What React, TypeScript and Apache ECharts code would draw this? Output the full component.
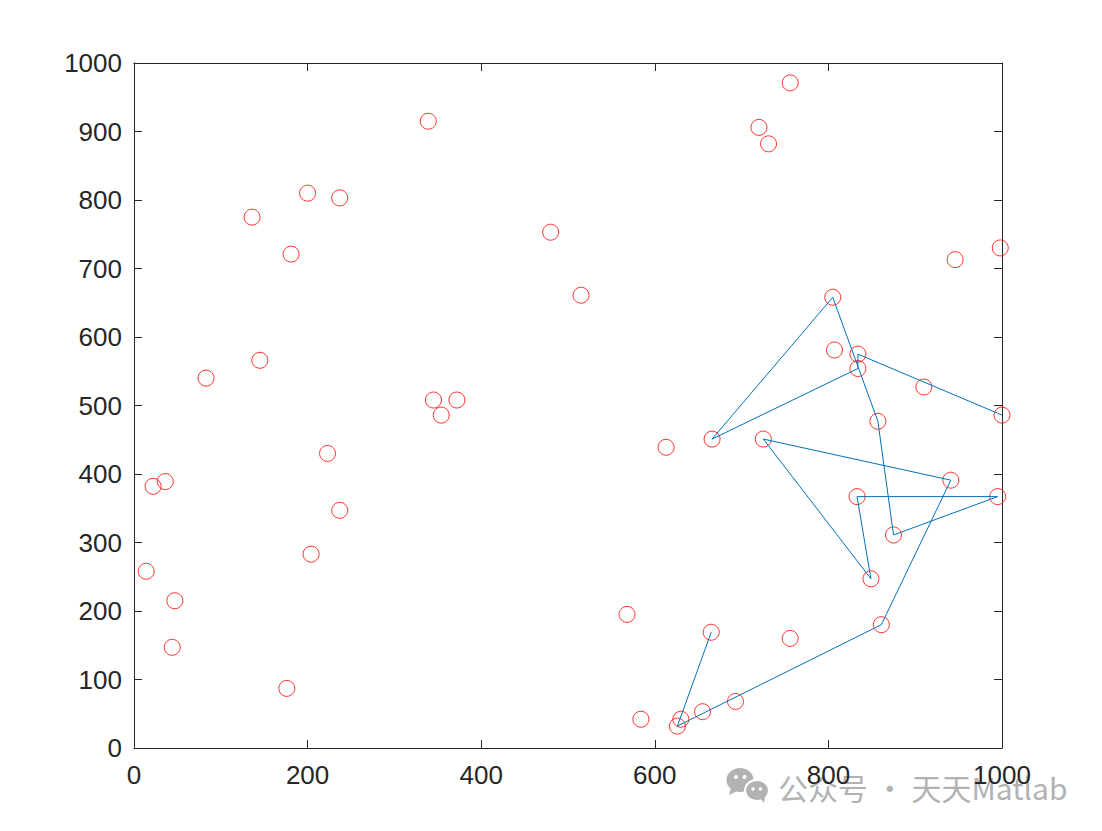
import React, { useEffect, useRef } from "react";
import * as echarts from "echarts";

const pointX = [14, 22, 36, 47, 44, 83, 136, 145, 181, 176, 200, 204, 223, 237, 237, 339, 345, 354, 372, 480, 515, 568, 584, 613, 626, 630, 655, 665, 693, 666, 720, 731, 756, 756, 725, 805, 807, 834, 834, 910, 1000, 857, 941, 833, 995, 875, 849, 861, 946, 998];
const pointY = [258, 382, 389, 215, 147, 540, 775, 566, 721, 87, 810, 283, 430, 803, 347, 915, 508, 486, 508, 753, 661, 195, 42, 439, 32, 42, 53, 169, 68, 451, 906, 882, 971, 160, 451, 658, 581, 575, 554, 527, 486, 477, 391, 367, 367, 311, 247, 180, 713, 730];
// visiting order of the route (0-based indices into the point arrays)
const routeIdx = [27, 24, 47, 42, 34, 46, 43, 44, 45, 41, 35, 29, 38, 37, 40];

const xTicks = [0, 200, 400, 600, 800, 1000];
const yTicks = [0, 100, 200, 300, 400, 500, 600, 700, 800, 900, 1000];

export default function App() {
  const ref = useRef<HTMLDivElement>(null);
  useEffect(() => {
    if (!ref.current) return;
    const chart = echarts.init(ref.current, undefined, { renderer: "svg" });
    const axisColor = "#262626";
    const labelFont = { fontSize: 26, fontFamily: '"Liberation Sans", Arial, sans-serif', color: axisColor };
    const baseAxis = (show: boolean, min: number, max: number, interval: number, margin: number) => ({
      type: "value",
      min,
      max,
      interval,
      splitLine: { show: false },
      axisLine: { show: true, onZero: false, lineStyle: { color: axisColor, width: 1 } },
      axisTick: { show: true, inside: true, length: 8, lineStyle: { color: axisColor, width: 1 } },
      axisLabel: { show, margin, formatter: (v: number) => String(v), ...labelFont },
    });
    const gray = "#b2b2b2";
    chart.setOption({
      animation: false,
      backgroundColor: "#ffffff",
      grid: { left: 134, right: 100, top: 63, bottom: 83, containLabel: false },
      xAxis: [
        { ...baseAxis(true, xTicks[0], xTicks[xTicks.length - 1], 200, 14), position: "bottom" },
        { ...baseAxis(false, xTicks[0], xTicks[xTicks.length - 1], 200, 14), position: "top" },
      ],
      yAxis: [
        { ...baseAxis(true, yTicks[0], yTicks[yTicks.length - 1], 100, 12), position: "left" },
        { ...baseAxis(false, yTicks[0], yTicks[yTicks.length - 1], 100, 12), position: "right" },
      ],
      series: [
        {
          type: "scatter",
          xAxisIndex: 0,
          yAxisIndex: 0,
          symbol: "circle",
          symbolSize: 16,
          z: 2,
          itemStyle: { color: "rgba(0,0,0,0)", borderColor: "#ff0000", borderWidth: 1 },
          data: pointX.map((x, i) => [x, pointY[i]]),
        },
        {
          type: "line",
          xAxisIndex: 0,
          yAxisIndex: 0,
          showSymbol: false,
          symbol: "none",
          z: 3,
          lineStyle: { color: "#0072BD", width: 1 },
          data: routeIdx.map((i) => [pointX[i], pointY[i]]),
        },
      ],
      graphic: [
        {
          type: "group",
          z: -10,
          children: [
            { type: "ellipse", shape: { cx: 740, cy: 780, rx: 13.5, ry: 12 }, style: { fill: gray } },
            { type: "polygon", shape: { points: [[731, 788], [729, 795], [737, 791]] }, style: { fill: gray } },
            { type: "ellipse", shape: { cx: 757, cy: 790.5, rx: 12, ry: 10.5 }, style: { fill: gray, stroke: "#ffffff", lineWidth: 2 } },
            { type: "polygon", shape: { points: [[760, 798], [764, 803], [765, 797]] }, style: { fill: gray } },
            { type: "circle", shape: { cx: 736, cy: 777, r: 2 }, style: { fill: "#ffffff" } },
            { type: "circle", shape: { cx: 744.5, cy: 777, r: 2 }, style: { fill: "#ffffff" } },
            { type: "circle", shape: { cx: 753, cy: 789, r: 1.7 }, style: { fill: "#ffffff" } },
            { type: "circle", shape: { cx: 760.5, cy: 789, r: 1.7 }, style: { fill: "#ffffff" } },
            {
              type: "text",
              style: {
                text: "公众号 · 天天Matlab",
                x: 778,
                y: 787,
                fill: gray,
                font: '30px "Noto Sans CJK SC", "Noto Sans", sans-serif',
                verticalAlign: "middle",
                align: "left",
              },
            },
          ],
        },
      ],
    });
    return () => chart.dispose();
  }, []);
  return (
    <div
      ref={ref}
      style={{ position: "fixed", left: 0, top: 0, width: 1102, height: 831, background: "#fff" }}
    />
  );
}
